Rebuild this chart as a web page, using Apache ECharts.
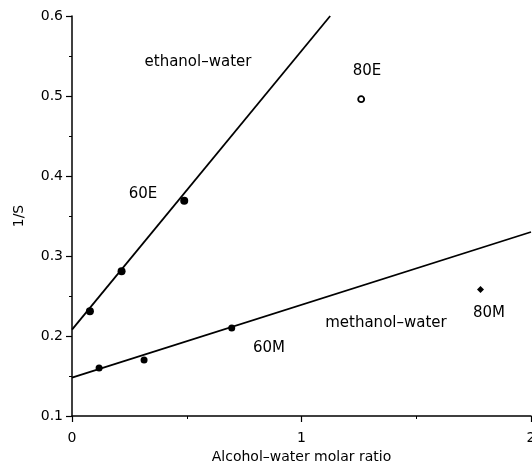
<!DOCTYPE html>
<html>
<head>
<meta charset="utf-8">
<script src="https://cdn.jsdelivr.net/npm/echarts@6/dist/echarts.min.js"></script>
<style>
  html, body { margin: 0; padding: 0; background: #fff; }
  #chart { width: 532px; height: 465px; }
</style>
</head>
<body>
<div id="chart"></div>
<script>
// measured points
const ethanolX = [0.078, 0.216, 0.489];
const ethanolY = [0.231, 0.281, 0.369];
const methanolX = [0.118, 0.314, 0.696];
const methanolY = [0.160, 0.170, 0.210];
const e80 = [1.26, 0.496];
const m80 = [1.78, 0.258];
// fitted lines (end points)
const ethanolFit = [[0, 0.208], [1.125, 0.6]];
const methanolFit = [[0, 0.148], [2, 0.33]];
// text annotations
const notes = [
  { text: "ethanol\u2013water", x: 0.549, y: 0.5425 },
  { text: "60E", x: 0.309, y: 0.3775 },
  { text: "80E", x: 1.285, y: 0.531 },
  { text: "methanol\u2013water", x: 1.368, y: 0.216 },
  { text: "80M", x: 1.817, y: 0.229 },
  { text: "60M", x: 0.858, y: 0.185 }
];

const font = "DejaVu Sans";
const zip = (xs, ys) => xs.map((x, i) => [x, ys[i]]);

const axisCommon = {
  axisLine: { lineStyle: { color: "#000", width: 1.5 } },
  axisTick: { inside: false, length: 6, lineStyle: { color: "#000", width: 1.2 } },
  minorTick: { show: true, splitNumber: 2, length: 3, lineStyle: { color: "#000", width: 1 } },
  splitLine: { show: false },
  nameTextStyle: { color: "#000", fontFamily: font, fontSize: 14 }
};

const dot = { color: "#000", opacity: 1 };

const option = {
  animation: false,
  grid: { left: 72, right: 1, top: 16, bottom: 49, containLabel: false, outerBoundsMode: "none" },
  xAxis: Object.assign({}, axisCommon, {
    type: "value",
    min: 0, max: 2, interval: 1,
    name: "Alcohol\u2013water molar ratio",
    nameLocation: "middle",
    nameGap: 32,
    axisLabel: { color: "#000", fontFamily: font, fontSize: 14, margin: 15 }
  }),
  yAxis: Object.assign({}, axisCommon, {
    type: "value",
    min: 0.1, max: 0.6, interval: 0.1,
    name: "1/S",
    nameLocation: "middle",
    nameGap: 46,
    axisLabel: {
      color: "#000", fontFamily: font, fontSize: 14, margin: 9,
      formatter: v => v.toFixed(1)
    }
  }),
  series: [
    {
      type: "line", data: ethanolFit, symbol: "none", clip: true,
      lineStyle: { color: "#000", width: 1.8 }
    },
    {
      type: "line", data: methanolFit, symbol: "none", clip: true,
      lineStyle: { color: "#000", width: 1.8 }
    },
    {
      type: "scatter", data: zip(ethanolX, ethanolY), symbol: "circle", symbolSize: 8,
      itemStyle: dot
    },
    {
      type: "scatter", data: zip(methanolX, methanolY), symbol: "circle", symbolSize: 7,
      itemStyle: dot
    },
    {
      type: "scatter", data: [e80], symbol: "circle", symbolSize: 6,
      itemStyle: { color: "#fff", borderColor: "#000", borderWidth: 1.8, opacity: 1 }
    },
    {
      type: "scatter", data: [m80], symbol: "diamond", symbolSize: 7,
      itemStyle: dot
    },
    {
      type: "scatter", symbolSize: 0, silent: true,
      data: notes.map(n => ({ value: [n.x, n.y], name: n.text })),
      itemStyle: { opacity: 1 },
      label: {
        show: true, position: "inside", formatter: p => p.name,
        color: "#000", fontFamily: font, fontSize: 15
      }
    }
  ]
};

const chartObj = echarts.init(document.getElementById("chart"));
chartObj.setOption(option);
</script>
</body>
</html>
